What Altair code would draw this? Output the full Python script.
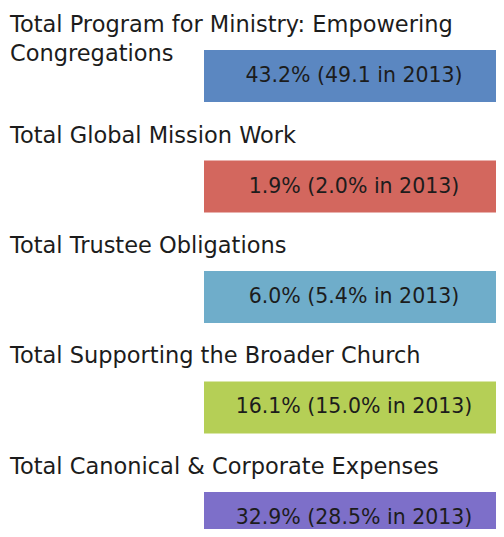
import altair as alt
import pandas as pd

categories = [
    "Total Program for Ministry: Empowering\nCongregations",
    "Total Global Mission Work",
    "Total Trustee Obligations",
    "Total Supporting the Broader Church",
    "Total Canonical & Corporate Expenses",
]
share_2014 = [43.2, 1.9, 6.0, 16.1, 32.9]
share_2013 = [49.1, 2.0, 5.4, 15.0, 28.5]
unit_2013 = ["", "%", "%", "%", "%"]
colors = ["#5B87C1", "#D3675E", "#6FADCA", "#B5CF56", "#7D6FC9"]

labels = [f"{a:.1f}% ({b:.1f}{u} in 2013)" for a, b, u in zip(share_2014, share_2013, unit_2013)]
df = pd.DataFrame({"category": categories, "label": labels})

yenc = alt.Y(
    "category:N",
    sort=categories,
    axis=None,
    scale=alt.Scale(range=[0, 578], paddingInner=0.5294, paddingOuter=0.3801),
)
color = alt.Color("category:N", scale=alt.Scale(domain=categories, range=colors), legend=None)

base = alt.Chart(df)

boxes = base.mark_rect().encode(
    y=yenc,
    x=alt.value(196),
    x2=alt.value(488),
    color=color,
)

box_text = base.mark_text(
    align="center", baseline="middle", font="DejaVu Sans", fontSize=20.5, color="#1c1c1c", dy=0
).encode(y=yenc, x=alt.value(346), text="label:N")

titles = base.mark_text(
    align="left", baseline="top", font="DejaVu Sans", fontSize=22.5, color="#1c1c1c",
    dy=-62, lineBreak="\n", lineHeight=29,
).encode(y=yenc, x=alt.value(2), text="category:N")

chart = (
    alt.layer(boxes, box_text, titles)
    .properties(width=488, height=521, autosize=alt.AutoSizeParams(type="none"), padding=0)
    .configure_view(strokeWidth=0)
)

chart.save("out.html", embed_options={"renderer": "svg", "actions": False})
